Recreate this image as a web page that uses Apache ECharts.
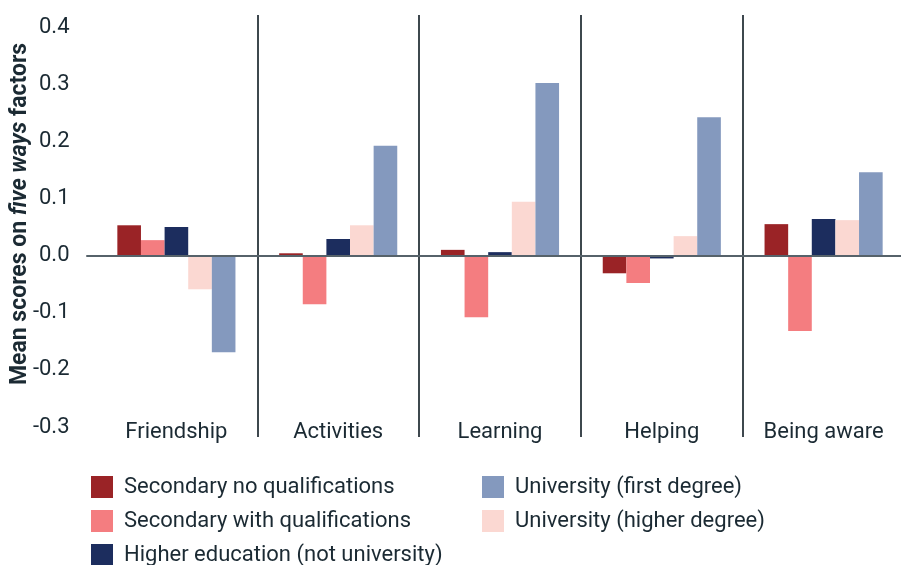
<!DOCTYPE html>
<html>
<head>
<meta charset="utf-8">
<script src="https://cdn.jsdelivr.net/npm/echarts@6/dist/echarts.min.js"></script>
<style>
html,body{margin:0;padding:0;background:#fff;}
#chart{width:901px;height:565px;}
</style>
</head>
<body>
<div id="chart"></div>
<script>
const categories = ['Friendship', 'Activities', 'Learning', 'Helping', 'Being aware'];
const yTicks = [-0.3, -0.2, -0.1, 0.0, 0.1, 0.2, 0.3, 0.4];
const secondaryNoQual = [0.053, 0.004, 0.010, -0.031, 0.055];
const secondaryWithQual = [0.027, -0.085, -0.108, -0.048, -0.132];
const higherEducation = [0.050, 0.029, 0.006, -0.005, 0.064];
const universityHigher = [-0.059, 0.053, 0.094, 0.034, 0.062];
const universityFirst = [-0.169, 0.192, 0.302, 0.242, 0.146];

const seriesNames = [
  'Secondary no qualifications',
  'Secondary with qualifications',
  'Higher education (not university)',
  'University (higher degree)',
  'University (first degree)'
];
const seriesData = [secondaryNoQual, secondaryWithQual, higherEducation, universityHigher, universityFirst];
const colors = ['#9a2326', '#f47d80', '#1c2d5e', '#fbd8d2', '#8499be'];

const textColor = '#1b2a33';
const fontFamily = 'Roboto';

const legendText = { fontSize: 22, color: textColor, fontFamily: fontFamily, padding: [0, 0, 0, 6], lineHeight: 22 };

const chart = echarts.init(document.getElementById('chart'));
const option = {
  animation: false,
  textStyle: { fontFamily: fontFamily },
  grid: [
    { left: 95.5, width: 809, top: 27, bottom: 138, outerBoundsMode: 'none', containLabel: false },
    { left: 95.5, width: 809, top: 15, bottom: 128, outerBoundsMode: 'none', containLabel: false },
    { left: 87, right: 0, top: 27, bottom: 138, outerBoundsMode: 'none', containLabel: false }
  ],
  legend: [
    {
      left: 91, top: 476, height: 120, orient: 'vertical', padding: 0,
      itemWidth: 22, itemHeight: 22, itemGap: 12, icon: 'rect',
      data: ['Secondary no qualifications', 'Secondary with qualifications', 'Higher education (not university)'],
      textStyle: legendText
    },
    {
      left: 482, top: 476, height: 120, orient: 'vertical', padding: 0,
      itemWidth: 22, itemHeight: 22, itemGap: 12, icon: 'rect',
      data: ['University (first degree)', 'University (higher degree)'],
      textStyle: legendText
    }
  ],
  xAxis: [
    {
      type: 'category', gridIndex: 0, data: categories, position: 'bottom',
      axisLine: { show: false, onZero: false },
      axisTick: { show: false },
      splitLine: { show: false },
      axisLabel: { fontSize: 22, color: textColor, verticalAlign: 'middle', margin: 5, interval: 0 }
    },
    {
      type: 'category', gridIndex: 1, data: categories,
      axisLine: { show: false },
      axisTick: { show: false },
      axisLabel: { show: false },
      splitLine: { show: true, interval: 0, showMinLine: false, showMaxLine: false,
        lineStyle: { color: '#3e484e', width: 2 } }
    },
    {
      type: 'category', gridIndex: 2, data: categories, z: 10,
      axisLine: { show: true, onZero: true, lineStyle: { color: '#56626a', width: 2 } },
      axisTick: { show: false },
      axisLabel: { show: false },
      splitLine: { show: false }
    }
  ],
  yAxis: [
    {
      type: 'value', gridIndex: 0, min: yTicks[0], max: yTicks[yTicks.length - 1], interval: 0.1,
      axisLine: { show: false }, axisTick: { show: false }, splitLine: { show: false },
      axisLabel: { fontSize: 22, color: textColor, margin: 26, formatter: v => v.toFixed(1) },
      name: '{a|Mean scores on }{b|five ways}{a| factors}',
      nameLocation: 'middle', nameRotate: 90, nameGap: 64, nameMoveOverlap: false,
      nameTextStyle: {
        padding: [0, 0, 0, 26],
        rich: {
          a: { fontSize: 23, fontWeight: 'bold', color: textColor, fontFamily: fontFamily },
          b: { fontSize: 23, fontWeight: 'bold', fontStyle: 'italic', color: textColor, fontFamily: fontFamily }
        }
      }
    },
    { type: 'value', gridIndex: 1, show: false, min: 0, max: 1 },
    { type: 'value', gridIndex: 2, show: false, min: yTicks[0], max: yTicks[yTicks.length - 1] }
  ],
  series: seriesData.map((d, i) => ({
    name: seriesNames[i],
    type: 'bar',
    xAxisIndex: 0,
    yAxisIndex: 0,
    data: d,
    barGap: 0,
    barCategoryGap: '27%',
    itemStyle: { color: colors[i] }
  }))
};
chart.setOption(option);
</script>
</body>
</html>
